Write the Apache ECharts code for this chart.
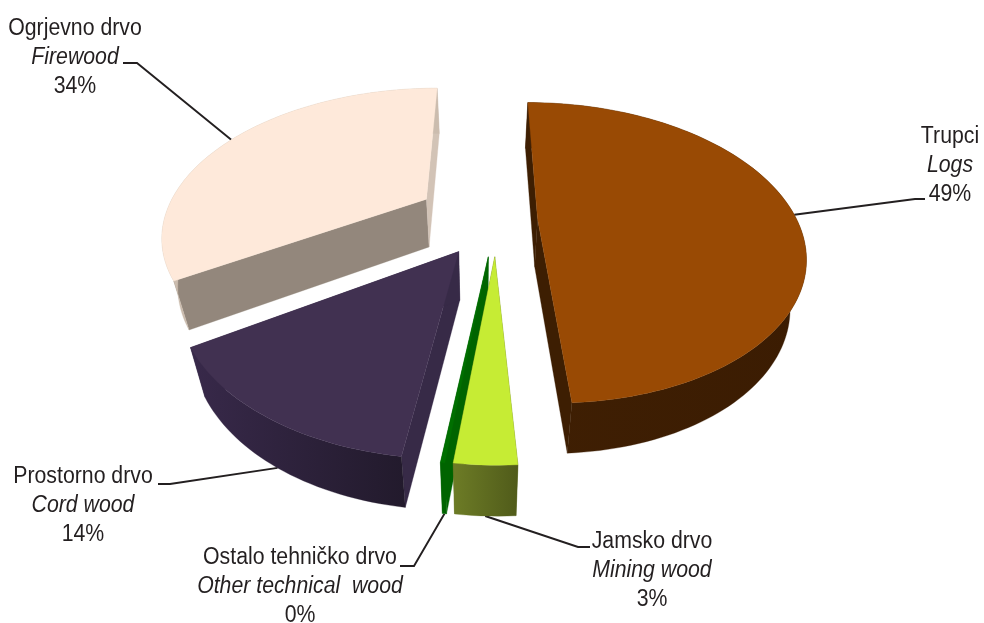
<!DOCTYPE html>
<html>
<head>
<meta charset="utf-8">
<style>html,body{margin:0;padding:0;background:#fff}#c{width:984px;height:623px}</style>
<script src="https://cdn.jsdelivr.net/npm/echarts@6/dist/echarts.min.js"></script>
</head>
<body>
<div id="c"></div>
<script>
// ---- data ----
var namesLocal = ['Trupci', 'Jamsko drvo', 'Ostalo tehničko drvo', 'Prostorno drvo', 'Ogrjevno drvo'];
var namesEnglish = ['Logs', 'Mining wood', 'Other technical  wood', 'Cord wood', 'Firewood'];
var shares = [49.1, 2.9, 0.2, 13.9, 33.9];

// ---- look ----
var topColors = ['#994a04', '#c6ec34', '#006f00', '#413151', '#fee9da'];
var wallFrom = ['#3f1f03', '#6d7c26', '#006400', '#38294a', '#cbbcae'];
var wallTo = ['#3b1c02', '#505b1a', '#006400', '#221a2c', '#cbbcae'];
var startCutColors = ['#3d1e02', '#5d6a20', '#006400', '#372a47', '#93877c'];
var endCutColors = ['#3d1e02', '#5d6a20', '#006400', '#372a47', '#d2c3b6'];
var explodeU = [0.2, 0.035, 0.012, -0.095, -0.23];
var explodeV = [0.012, 0.26, 0.26, 0.228, -0.127];
var radiusScale = [0.985, 0.975, 0.975, 0.985, 1];
var paintOrder = [1, 3, 2, 4, 5];
var labelX = [950, 652, 300, 83, 75];
var labelY = [137, 542, 558, 477, 29];
var lineGap = 28.7;
var elbow = [[915, 199, 925, 199], [578, 547, 590, 547], [414, 566, 400, 566], [170, 484, 158, 484], [137, 63, 123, 63]];

// ---- projection of the tilted pie ----
var cx = 485, cy = 217, sx = 262, sy = 143.9, persp = 0.23, depth = 48, converge = 0.95, vanishX = 480;
function project(U, V, lower) {
  var D = 1 - persp * V;
  var x = cx + sx * U / D, y = cy + sy * V / D;
  if (lower) {
    x = vanishX + (x - vanishX) * converge;
    y += depth * (1 + 0.05 * V);
  }
  return [x, y];
}
function rim(i, deg, lower) {
  var a = deg * Math.PI / 180, r = radiusScale[i];
  return project(explodeU[i] + r * Math.sin(a), explodeV[i] - r * Math.cos(a), lower);
}
function arcPoints(i, a0, a1, lower) {
  var n = Math.max(2, Math.ceil((a1 - a0) / 1.5)), pts = [];
  for (var k = 0; k <= n; k++) pts.push(rim(i, a0 + (a1 - a0) * k / n, lower));
  return pts;
}
var total = shares.reduce(function (a, b) { return a + b; }, 0);

function renderSlice(params, api) {
  var i = params.dataIndex, a0 = 0;
  for (var k = 0; k < i; k++) a0 += shares[k] / total * 360;
  var a1 = a0 + api.value(0) / total * 360, mid = (a0 + a1) / 2;
  var apexT = project(explodeU[i], explodeV[i], false), apexB = project(explodeU[i], explodeV[i], true);
  var topArc = arcPoints(i, a0, a1, false), lowArc = arcPoints(i, a0, a1, true);
  var base = paintOrder[i] * 100, kids = [];
  function poly(points, fill) {
    kids.push({ type: 'polygon', z2: base + kids.length, shape: { points: points }, style: { fill: fill, stroke: fill, lineWidth: 0.3 }, silent: true });
  }
  // leader line and label
  var front = -Math.cos(mid * Math.PI / 180) > 0.3;
  var anchor = rim(i, mid, front), e = elbow[i];
  kids.push({ type: 'polyline', z2: 1, shape: { points: [anchor, [e[0], e[1]], [e[2], e[3]]] }, style: { fill: null, stroke: '#231f20', lineWidth: 1.9 }, silent: true });
  var lines = [namesLocal[i], namesEnglish[i], Math.round(api.value(0)) + '%'];
  lines.forEach(function (t, n) {
    kids.push({
      type: 'text', z2: 1000, silent: true,
      x: labelX[i], y: labelY[i] + n * lineGap, scaleX: 0.905, scaleY: 1,
      style: {
        x: 0, y: 0, text: t, align: 'center', verticalAlign: 'middle',
        fontFamily: '"Liberation Sans Narrow","Liberation Sans",Arial,sans-serif',
        fontSize: 23.5, fontStyle: n === 1 ? 'italic' : 'normal', fill: '#231f20'
      }
    });
  });
  // cut walls
  poly([apexT, topArc[0], lowArc[0], apexB], startCutColors[i]);
  poly([apexT, topArc[topArc.length - 1], lowArc[lowArc.length - 1], apexB], endCutColors[i]);
  // outer wall
  poly(topArc.concat(lowArc.slice().reverse()), new echarts.graphic.LinearGradient(0, 0, 1, 0, [
    { offset: 0, color: wallFrom[i] }, { offset: 1, color: wallTo[i] }
  ]));
  // top face
  poly([apexT].concat(topArc), topColors[i]);
  return { type: 'group', children: kids };
}

var chart = echarts.init(document.getElementById('c'), null, { renderer: 'canvas' });
chart.setOption({
  animation: false,
  backgroundColor: '#ffffff',
  tooltip: { show: false },
  series: [{
    type: 'custom',
    coordinateSystem: 'none',
    renderItem: renderSlice,
    encode: { value: 0 },
    data: shares.map(function (v) { return [v]; })
  }]
});
</script>
</body>
</html>
